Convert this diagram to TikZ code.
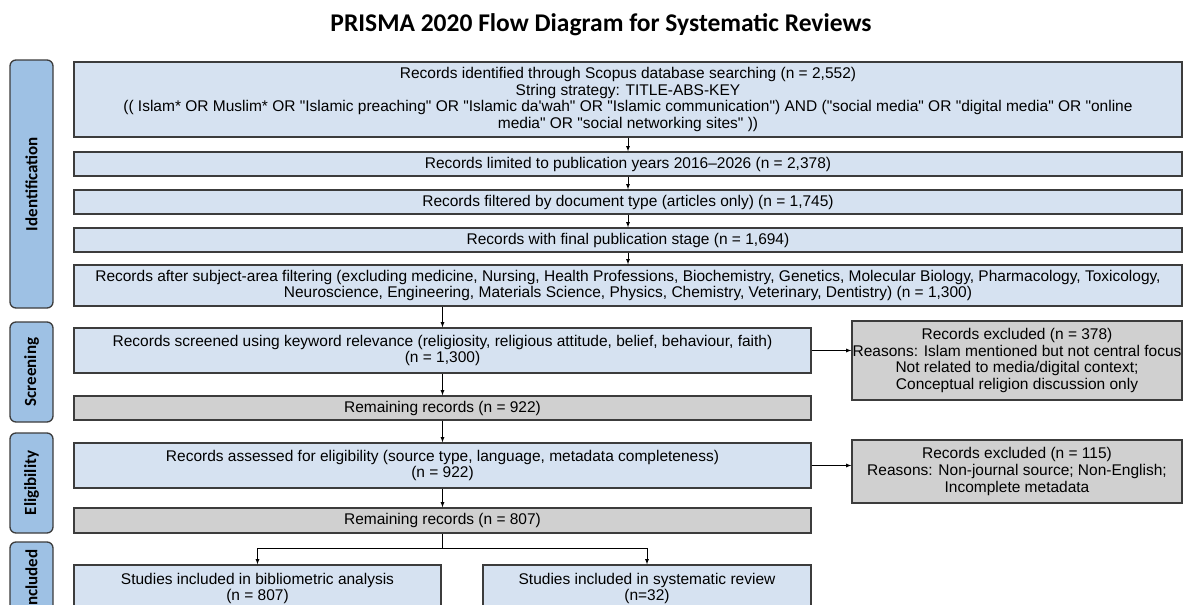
\documentclass[tikz,border=0pt]{standalone}
\usepackage{fontspec}
\newfontfamily\boxfont{Liberation Sans}
\newfontfamily\headfont{Carlito}
\usetikzlibrary{arrows, positioning}

\definecolor{boxblue}{RGB}{214,226,241}
\definecolor{tabblue}{RGB}{158,193,228}
\definecolor{boxgray}{RGB}{208,208,208}
\definecolor{edgegray}{RGB}{60,60,60}

\begin{document}
\begin{tikzpicture}[
            x = 1pt, y = -1pt, % pixel grid, y runs downwards
            > = latex, % arrow head style
            line width = 0.8pt,
            font = \boxfont\fontsize{15.5}{16.7}\selectfont
        ]

        \tikzstyle{record}=[
            rectangle,
            draw = edgegray,
            line width = 1.3pt,
            fill = boxblue,
            align = center,
            inner sep = 0pt
        ]
        \tikzstyle{remain}=[record, fill = boxgray]
        \tikzstyle{phase}=[
            rectangle,
            rounded corners = 6pt,
            draw = edgegray,
            line width = 1.3pt,
            fill = tabblue,
            inner sep = 0pt,
            minimum width = 43pt,
            font = \headfont\bfseries\fontsize{17}{18}\selectfont
        ]

        \useasboundingbox (0,0) rectangle (1184,605);

        \node[font = \headfont\bfseries\fontsize{25.5}{28}\selectfont] (title) at (601, 25) {PRISMA 2020 Flow Diagram for Systematic Reviews};

        % phase tabs
        \node[phase, minimum height = 248pt] (tabid)  at ( 31.5, 184 ) {\rotatebox{90}{Identification}};
        \node[phase, minimum height = 100pt] (tabscr) at ( 31.5, 372 ) {\rotatebox{90}{Screening}};
        \node[phase, minimum height = 100pt] (tabeli) at ( 31.5, 483 ) {\rotatebox{90}{Eligibility}};
        \node[phase, minimum height =  76pt] (tabinc) at ( 31.5, 580 ) {\rotatebox{90}{Included}};

        % identification
        \node[record, minimum width = 1108pt, minimum height = 75pt] (srch)  at ( 628 ,  99.5 ) {Records identified through Scopus database searching (n = 2,552)\\String strategy: TITLE-ABS-KEY\\(( Islam* OR Muslim* OR "Islamic preaching" OR "Islamic da\textquotesingle wah" OR "Islamic communication") AND ("social media" OR "digital media" OR "online\\media" OR "social networking sites" ))};
        \node[record, minimum width = 1108pt, minimum height = 24pt] (years) at ( 628 , 164   ) {Records limited to publication years 2016–2026 (n = 2,378)};
        \node[record, minimum width = 1108pt, minimum height = 24pt] (dtype) at ( 628 , 202   ) {Records filtered by document type (articles only) (n = 1,745)};
        \node[record, minimum width = 1108pt, minimum height = 24pt] (stage) at ( 628 , 240   ) {Records with final publication stage (n = 1,694)};
        \node[record, minimum width = 1108pt, minimum height = 41pt] (subj)  at ( 628 , 285.5 ) {Records after subject-area filtering (excluding medicine, Nursing, Health Professions, Biochemistry, Genetics, Molecular Biology, Pharmacology, Toxicology,\\Neuroscience, Engineering, Materials Science, Physics, Chemistry, Veterinary, Dentistry) (n = 1,300)};

        % screening and eligibility
        \node[record, minimum width = 737pt, minimum height = 45pt] (screen) at ( 442.5 , 350.5 ) {Records screened using keyword relevance (religiosity, religious attitude, belief, behaviour, faith)\\(n = 1,300)};
        \node[remain, minimum width = 737pt, minimum height = 24pt] (rem1)   at ( 442.5 , 408   ) {Remaining records (n = 922)};
        \node[record, minimum width = 737pt, minimum height = 45pt] (elig)   at ( 442.5 , 465.5 ) {Records assessed for eligibility (source type, language, metadata completeness)\\(n = 922)};
        \node[remain, minimum width = 737pt, minimum height = 25pt] (rem2)   at ( 442.5 , 520.5 ) {Remaining records (n = 807)};

        \node[remain, minimum width = 330pt, minimum height = 79pt] (excl1) at ( 1017 , 360.5 ) {Records excluded (n = 378)\\Reasons: Islam mentioned but not central focus\\Not related to media/digital context;\\Conceptual religion discussion only};
        \node[remain, minimum width = 330pt, minimum height = 63pt] (excl2) at ( 1017 , 471.5 ) {Records excluded (n = 115)\\Reasons: Non-journal source; Non-English;\\Incomplete metadata};

        % included
        \node[record, minimum width = 367pt, minimum height = 47pt] (incl1) at ( 257.5 , 588.5 ) {Studies included in bibliometric analysis\\(n = 807)};
        \node[record, minimum width = 328pt, minimum height = 47pt] (incl2) at ( 647   , 588.5 ) {Studies included in systematic review\\(n=32)};

        \path[->] (srch)  edge (years);
        \path[->] (years) edge (dtype);
        \path[->] (dtype) edge (stage);
        \path[->] (stage) edge (subj);
        \path[->] (screen.north |- subj.south) edge (screen);
        \path[->] (screen) edge (rem1);
        \path[->] (rem1)   edge (elig);
        \path[->] (elig)   edge (rem2);
        \path[->] (screen) edge (screen -| excl1.west);
        \path[->] (elig)   edge (elig -| excl2.west);

        \coordinate (split) at ([yshift=-15pt]rem2.south);
        \draw (rem2) -- (split);
        \draw[->] (split) -| (incl1.north);
        \draw[->] (split) -| (incl2.north);

    \end{tikzpicture}
\end{document}
